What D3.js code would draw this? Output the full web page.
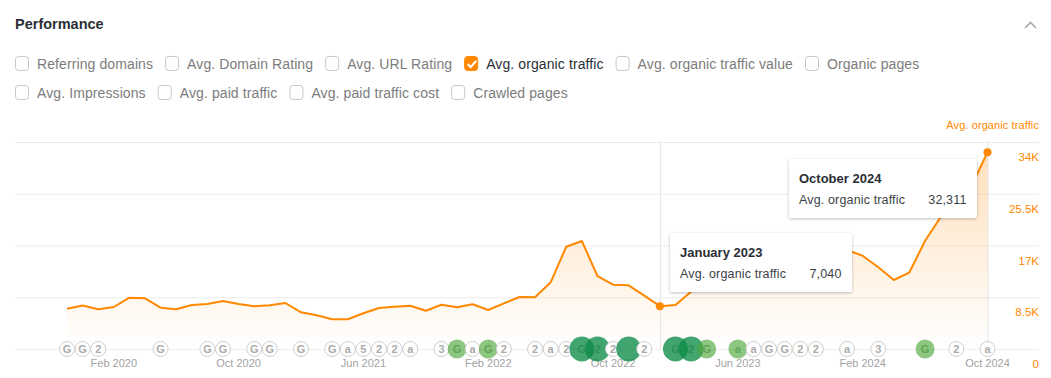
<!DOCTYPE html>
<html>
<head>
<meta charset="utf-8">
<script src="https://cdnjs.cloudflare.com/ajax/libs/d3/7.8.5/d3.min.js"></script>
<style>
body { margin: 0; background: #fff; }
svg { display: block; font-family: "Liberation Sans", Arial, sans-serif; }
</style>
</head>
<body>
<div id="chart-area"></div>
<script>
var metricsRow1 = ["Referring domains", "Avg. Domain Rating", "Avg. URL Rating", "Avg. organic traffic", "Avg. organic traffic value", "Organic pages"];
var metricsRow2 = ["Avg. Impressions", "Avg. paid traffic", "Avg. paid traffic cost", "Crawled pages"];

var monthNames = ["Jan","Feb","Mar","Apr","May","Jun","Jul","Aug","Sep","Oct","Nov","Dec"];
var fullMonths = {"Jan 2023": "January 2023", "Oct 2024": "October 2024"};

// Nov 2019 .. Oct 2024. Aug-Dec 2023 sits behind the tooltip so is a guess
var traffic = [6619,7145,6521,6899,8426,8327,6784,6521,7227,7391,7884,7391,
  7013,7178,7556,6028,5535,4878,4878,5864,6734,6931,7112,6291,7276,6849,7342,6406,
  7506,8541,8492,10955,16803,17739,11990,10561,10463,8771,7040,7227,9411,
  10840,11826,12976,14290,15440,16261,16589,16754,16589,16261,15325,13419,11333,
  12598,17788,21681,23980,26937,32311];

var yTicks = [0, 8500, 17000, 25500, 34000];
var xTickMonths = ["Feb 2020","Oct 2020","Jun 2021","Feb 2022","Oct 2022","Jun 2023","Feb 2024","Oct 2024"];

// annotation markers: month, glyph, size class (0 plain, 1 mid green, 2 big green)
var noteMonths = ["Nov 2019","Dec 2019","Jan 2020","May 2020","Aug 2020","Sep 2020","Nov 2020","Dec 2020","Feb 2021","Apr 2021","May 2021","Jun 2021","Jul 2021","Aug 2021","Sep 2021","Nov 2021","Dec 2021","Jan 2022","Feb 2022","Mar 2022","May 2022","Jun 2022","Jul 2022","Aug 2022","Sep 2022","Oct 2022","Nov 2022","Dec 2022","Feb 2023","Mar 2023","Apr 2023","Jun 2023","Jul 2023","Aug 2023","Sep 2023","Oct 2023","Nov 2023","Jan 2024","Mar 2024","Jun 2024","Aug 2024","Oct 2024"];
var noteGlyphs = ["G","G","2","G","G","G","G","G","G","G","a","5","2","2","a","3","G","a","G","2","2","a","2","G","2","2","","2","G","2","G","a","a","G","G","2","2","a","3","G","2","a"];
var noteSizes =  [0,0,0,0,0,0,0,0,0,0,0,0,0,0,0,0,1,0,1,0,0,0,0,2,2,0,2,0,2,2,1,1,0,0,0,0,0,0,0,1,0,0];

var tips = [
  {month: "Jan 2023", left: 10, top: -73, w: 182},
  {month: "Oct 2024", left: -198.5, top: 7, w: 188}
];

var orange = "#ff8800";
var width = 1051, height = 378;

var months = traffic.map((d, i) => {
  var m = (10 + i) % 12;
  var yr = 2019 + Math.floor((10 + i) / 12);
  return monthNames[m] + " " + yr;
});

var svg = d3.select("#chart-area").append("svg")
  .attr("width", width)
  .attr("height", height);

var defs = svg.append("defs");
var grad = defs.append("linearGradient").attr("id", "areaFill")
  .attr("gradientUnits", "userSpaceOnUse")
  .attr("x1", 0).attr("x2", 0).attr("y1", 142).attr("y2", 349);
grad.append("stop").attr("offset", "0%").attr("stop-color", orange).attr("stop-opacity", 0.28);
grad.append("stop").attr("offset", "100%").attr("stop-color", orange).attr("stop-opacity", 0);
var shadow = defs.append("filter").attr("id", "tipShadow")
  .attr("x", "-10%").attr("y", "-20%").attr("width", "120%").attr("height", "140%");
shadow.append("feDropShadow").attr("dx", 0).attr("dy", 1).attr("stdDeviation", 1.6)
  .attr("flood-color", "#000").attr("flood-opacity", 0.25);

// header
svg.append("text").attr("x", 15).attr("y", 29)
  .attr("font-size", "14.5px").attr("font-weight", "bold").attr("fill", "#2b2f36")
  .text("Performance");
svg.append("path").attr("d", "M1025 28 L1030.5 22.5 L1036 28")
  .attr("fill", "none").attr("stroke", "#a9a9a9").attr("stroke-width", 1.6);

// checkbox rows
function checkboxRow(names, y) {
  var cx = 15;
  names.forEach((name) => {
    var on = name == "Avg. organic traffic";
    svg.append("rect").attr("x", cx + 0.5).attr("y", y - 7.5).attr("width", 13).attr("height", 14).attr("rx", 3)
      .attr("fill", on ? orange : "#fff").attr("stroke", on ? orange : "#c8c8c8");
    if (on) {
      svg.append("path").attr("d", "M" + (cx + 3.5) + " " + y + " l3 3 l5.5 -6")
        .attr("fill", "none").attr("stroke", "#fff").attr("stroke-width", 2);
    }
    var label = svg.append("text").attr("x", cx + 22).attr("y", y + 5)
      .attr("font-size", "14px").attr("letter-spacing", "0.1px")
      .attr("fill", on ? "#2b2f36" : "#7c7c7c").text(name);
    cx += 22 + label.node().getComputedTextLength() + 12;
  });
}
checkboxRow(metricsRow1, 64);
checkboxRow(metricsRow2, 93);

var x = d3.scalePoint().domain(months).range([67, 987.5]);
var y = d3.scaleLinear().domain([0, 34000]).range([349, 142]);

// grid
svg.append("g").selectAll("line").data(yTicks).enter().append("line")
  .attr("x1", 15).attr("x2", 1039)
  .attr("y1", (d) => { return y(d) + 0.5; })
  .attr("y2", (d) => { return y(d) + 0.5; })
  .attr("stroke", (d) => { return d == 0 ? "#eeeeee" : "#ececec"; });

// hover lines
tips.forEach((t) => {
  svg.append("line").attr("x1", x(t.month) + 0.5).attr("x2", x(t.month) + 0.5)
    .attr("y1", 142).attr("y2", 349).attr("stroke", "#e4e4e4");
});

// axes
var yAxis = d3.axisRight(y).tickValues(yTicks).tickSize(0)
  .tickFormat((d) => { return d == 0 ? "0" : d3.format(".3~s")(d).replace("k", "K"); });
var yAxisGroup = svg.append("g").attr("transform", "translate(1039, 15)").call(yAxis);
yAxisGroup.select(".domain").remove();
yAxisGroup.selectAll("text").attr("x", 0).attr("text-anchor", "end")
  .attr("font-family", "Liberation Sans").attr("font-size", "11.5px").attr("fill", orange);

var xAxis = d3.axisBottom(x).tickValues(xTickMonths).tickSize(0);
var xAxisGroup = svg.append("g").attr("transform", "translate(-0.5, 349)").call(xAxis);
xAxisGroup.select(".domain").remove();
xAxisGroup.selectAll("text").attr("y", 10)
  .attr("font-family", "Liberation Sans").attr("font-size", "11px").attr("fill", "#a3a3a3");

svg.append("text").attr("x", 1039).attr("y", 129).attr("text-anchor", "end")
  .attr("font-size", "11px").attr("letter-spacing", "0.1px").attr("fill", orange)
  .text("Avg. organic traffic");

// area and line
var area = d3.area().x((d, i) => { return x(months[i]); }).y0(y(0)).y1((d) => { return y(d); });
var line = d3.line().x((d, i) => { return x(months[i]); }).y((d) => { return y(d); });
svg.append("path").datum(traffic).attr("d", area).attr("fill", "url(#areaFill)");
svg.append("path").datum(traffic).attr("d", line)
  .attr("fill", "none").attr("stroke", orange).attr("stroke-width", 2).attr("stroke-linejoin", "round");

// annotation markers
var radius = [7.5, 9.5, 12.5];
var noteData = noteMonths.map((m, i) => { return {month: m, glyph: noteGlyphs[i], size: noteSizes[i]}; });
var notes = svg.append("g").selectAll("g").data(noteData).enter().append("g")
  .attr("transform", (d) => { return "translate(" + x(d.month) + ", 349)"; });
notes.append("circle")
  .attr("r", (d) => { return radius[d.size]; })
  .attr("fill", (d) => { return d.size == 2 ? "#0d8a47" : d.size == 1 ? "#4fa83d" : "#fff"; })
  .attr("fill-opacity", (d) => { return d.size == 2 ? 0.78 : d.size == 1 ? 0.65 : 1; })
  .attr("stroke", (d) => { return d.size == 0 ? "#cfcfcf" : "none"; });
notes.append("text")
  .attr("text-anchor", "middle").attr("y", 3.5)
  .attr("font-size", "11px").attr("font-weight", "bold")
  .attr("fill", (d) => { return d.size == 0 ? "#ababab" : d.size == 2 ? "#2d8f5a" : "#5fa552"; })
  .text((d) => { return d.glyph; });

// markers and tooltips
tips.forEach((t) => {
  var i = months.indexOf(t.month);
  var px = x(t.month), py = y(traffic[i]);
  svg.append("circle").attr("cx", px).attr("cy", py).attr("r", 4).attr("fill", orange);

  var tip = svg.append("g").attr("transform", "translate(" + Math.round(px + t.left) + ", " + Math.round(py + t.top) + ")");
  tip.append("rect").attr("width", t.w).attr("height", 59).attr("rx", 2)
    .attr("fill", "#fff").attr("filter", "url(#tipShadow)");
  tip.append("text").attr("x", 10).attr("y", 24)
    .attr("font-size", "13px").attr("font-weight", "bold").attr("fill", "#2b2f36")
    .text(fullMonths[t.month]);
  tip.append("text").attr("x", 10).attr("y", 45)
    .attr("font-size", "12.5px").attr("letter-spacing", "0.15px").attr("fill", "#3a3f47")
    .text("Avg. organic traffic");
  tip.append("text").attr("x", t.w - 10.5).attr("y", 45).attr("text-anchor", "end")
    .attr("font-size", "12.5px").attr("letter-spacing", "0.15px").attr("fill", "#3a3f47")
    .text(d3.format(",")(traffic[i]));
});
</script>
</body>
</html>
